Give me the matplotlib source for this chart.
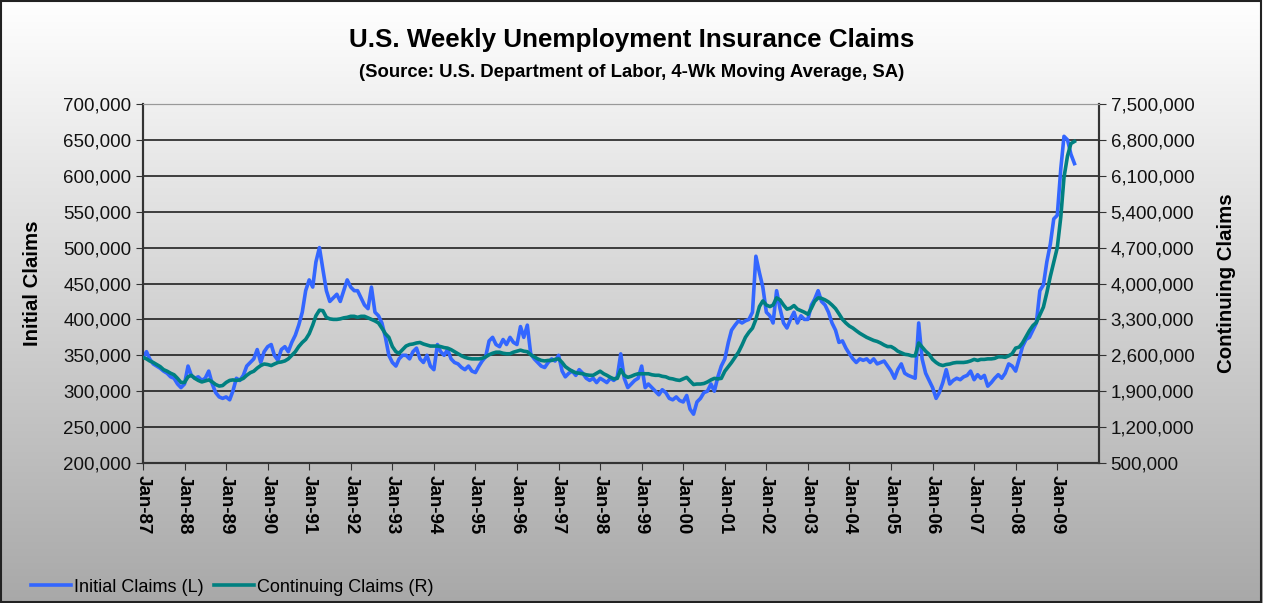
import numpy as np
import pandas as pd
import matplotlib
matplotlib.use('Agg')
import matplotlib.pyplot as plt
from matplotlib.ticker import FuncFormatter, MultipleLocator
import matplotlib.dates as mdates

plt.rcParams['font.family'] = ['Liberation Sans', 'DejaVu Sans']

# monthly readings, Jan 1987 - Jun 2009
start_month = '1987-01'

# initial claims, 4-wk avg (thousands)
initial_claims = [
    347, 355, 345, 338, 335, 332, 328, 325, 320, 318, 310, 305,  # 1987
    310, 335, 322, 318, 320, 315, 318, 328, 310, 298, 292, 290,  # 1988
    292, 288, 300, 318, 315, 322, 335, 340, 345, 358, 340, 355,  # 1989
    362, 365, 350, 343, 358, 362, 355, 368, 378, 392, 410, 440,  # 1990
    455, 445, 480, 500, 470, 440, 425, 430, 435, 425, 440, 455,  # 1991
    445, 440, 440, 430, 420, 415, 445, 410, 405, 395, 375, 350,  # 1992
    340, 335, 345, 350, 350, 345, 355, 360, 345, 340, 350, 335,  # 1993
    330, 365, 355, 350, 358, 345, 340, 338, 333, 330, 335, 328,  # 1994
    326, 335, 342, 348, 370, 375, 365, 362, 372, 365, 375, 368,  # 1995
    365, 390, 375, 392, 352, 345, 340, 335, 333, 340, 345, 342,  # 1996
    350, 328, 320, 325, 328, 322, 330, 325, 318, 315, 318, 312,  # 1997
    318, 315, 312, 318, 315, 320, 352, 318, 305, 310, 315, 318,  # 1998
    335, 305, 310, 305, 300, 295, 302, 298, 290, 288, 292, 287,  # 1999
    285, 294, 275, 268, 285, 290, 298, 300, 310, 300, 320, 335,  # 2000
    345, 368, 385, 392, 398, 395, 398, 400, 410, 488, 465, 445,  # 2001
    410, 405, 395, 440, 415, 395, 388, 400, 410, 395, 405, 400,  # 2002
    400, 420, 428, 440, 425, 420, 410, 395, 385, 368, 370, 360,  # 2003
    352, 345, 340, 345, 343, 345, 340, 345, 338, 340, 342, 335,  # 2004
    328, 318, 330, 338, 325, 322, 320, 318, 395, 345, 325, 315,  # 2005
    305, 290, 298, 312, 330, 310, 315, 318, 316, 320, 322, 328,  # 2006
    316, 323, 318, 322, 307, 312, 318, 323, 318, 325, 338, 335,  # 2007
    328, 345, 362, 372, 375, 385, 395, 440, 448, 480, 505, 540,  # 2008
    545, 610, 655, 650, 630, 617,                                # 2009
]

# continuing claims (millions)
continuing_claims = [
    2.56, 2.53, 2.49, 2.46, 2.42, 2.38, 2.32, 2.29, 2.25, 2.22, 2.15, 2.07,  # 1987
    2.07, 2.18, 2.21, 2.15, 2.11, 2.08, 2.10, 2.12, 2.08, 2.03, 2.00, 2.01,  # 1988
    2.07, 2.11, 2.12, 2.11, 2.12, 2.15, 2.21, 2.26, 2.29, 2.35, 2.40, 2.43,  # 1989
    2.42, 2.40, 2.43, 2.46, 2.47, 2.49, 2.53, 2.60, 2.67, 2.77, 2.85, 2.91,  # 1990
    3.02, 3.19, 3.37, 3.48, 3.47, 3.34, 3.31, 3.30, 3.30, 3.31, 3.33, 3.34,  # 1991
    3.36, 3.36, 3.34, 3.36, 3.36, 3.33, 3.30, 3.27, 3.23, 3.13, 3.02, 2.95,  # 1992
    2.77, 2.67, 2.64, 2.71, 2.78, 2.81, 2.82, 2.84, 2.85, 2.82, 2.80, 2.78,  # 1993
    2.78, 2.78, 2.77, 2.75, 2.74, 2.71, 2.67, 2.63, 2.59, 2.56, 2.54, 2.53,  # 1994
    2.53, 2.53, 2.54, 2.57, 2.61, 2.64, 2.66, 2.66, 2.64, 2.63, 2.63, 2.66,  # 1995
    2.68, 2.70, 2.68, 2.67, 2.61, 2.57, 2.53, 2.50, 2.49, 2.50, 2.50, 2.52,  # 1996
    2.53, 2.46, 2.38, 2.33, 2.29, 2.26, 2.25, 2.24, 2.22, 2.21, 2.21, 2.25,  # 1997
    2.29, 2.24, 2.21, 2.17, 2.14, 2.15, 2.32, 2.21, 2.17, 2.19, 2.22, 2.24,  # 1998
    2.24, 2.24, 2.24, 2.22, 2.21, 2.21, 2.19, 2.18, 2.15, 2.14, 2.12, 2.11,  # 1999
    2.14, 2.17, 2.10, 2.03, 2.04, 2.04, 2.05, 2.08, 2.12, 2.15, 2.14, 2.15,  # 2000
    2.29, 2.38, 2.46, 2.56, 2.66, 2.80, 2.95, 3.05, 3.13, 3.30, 3.55, 3.66,  # 2001
    3.58, 3.55, 3.58, 3.72, 3.68, 3.58, 3.50, 3.52, 3.57, 3.50, 3.47, 3.44,  # 2002
    3.40, 3.52, 3.65, 3.72, 3.71, 3.68, 3.64, 3.58, 3.51, 3.41, 3.30, 3.23,  # 2003
    3.17, 3.13, 3.08, 3.03, 2.99, 2.95, 2.92, 2.89, 2.87, 2.84, 2.80, 2.77,  # 2004
    2.77, 2.73, 2.68, 2.65, 2.62, 2.61, 2.59, 2.59, 2.84, 2.76, 2.68, 2.62,  # 2005
    2.52, 2.46, 2.42, 2.40, 2.42, 2.43, 2.45, 2.46, 2.46, 2.46, 2.47, 2.49,  # 2006
    2.52, 2.50, 2.52, 2.52, 2.53, 2.53, 2.54, 2.57, 2.57, 2.56, 2.59, 2.63,  # 2007
    2.74, 2.76, 2.84, 2.96, 3.08, 3.18, 3.24, 3.39, 3.54, 3.82, 4.14, 4.42,  # 2008
    4.70, 5.30, 6.07, 6.49, 6.73, 6.77,                                      # 2009
]

dates = pd.date_range(start_month, periods=len(initial_claims), freq='MS')
df = pd.DataFrame({'initial': np.array(initial_claims) * 1000,
                   'continuing': np.array(continuing_claims) * 1e6}, index=dates)

fig = plt.figure(figsize=(12.63, 6.03), dpi=100)

# gradient background
bg = fig.add_axes([0, 0, 1, 1], zorder=-10)
grad = np.linspace(1.0, 0.66, 256).reshape(-1, 1)
bg.imshow(np.dstack([grad, grad, grad]), aspect='auto', extent=[0, 1, 0, 1])
bg.set_axis_off()
fig.patches.append(plt.Rectangle((0.0008, 0.0015), 0.998, 0.997, transform=fig.transFigure,
                                 fill=False, edgecolor='#222222', linewidth=1.5))

ax = fig.add_axes([0.1132, 0.2322, 0.7568, 0.5953])
ax.patch.set_alpha(0)
ax2 = ax.twinx()

blue = '#3366ff'
teal = '#008080'

l1, = ax.plot(df.index, df['initial'], color=blue, lw=2.6, label='Initial Claims (L)', zorder=3)
l2, = ax2.plot(df.index, df['continuing'], color=teal, lw=2.6, label='Continuing Claims (R)', zorder=3)

ax.set_ylim(200000, 700000)
ax2.set_ylim(500000, 7500000)
ax.yaxis.set_major_locator(MultipleLocator(50000))
ax2.set_yticks(np.arange(500000, 7500001, 700000))
fmt = FuncFormatter(lambda v, p: f'{v:,.0f}')
ax.yaxis.set_major_formatter(fmt)
ax2.yaxis.set_major_formatter(fmt)

ax.set_xlim(pd.Timestamp('1987-01-01'), pd.Timestamp('2010-01-01'))
years = pd.date_range('1987-01-01', '2009-01-01', freq='YS')
ax.set_xticks(years)
ax.xaxis.set_major_formatter(mdates.DateFormatter('Jan-%y'))
for lbl in ax.get_xticklabels():
    lbl.set_rotation(270)
    lbl.set_fontweight('bold')
    lbl.set_fontsize(13.5)

ax.grid(axis='y', color='#111111', lw=1.1)
ax.set_axisbelow(True)
ax.tick_params(axis='y', labelsize=13.5, length=5, color='#333333', labelcolor='#111111')
ax2.tick_params(axis='y', labelsize=13.5, length=5, color='#333333', labelcolor='#111111')
ax.tick_params(axis='x', length=5, color='#333333', pad=4)

for a in (ax, ax2):
    a.spines['top'].set_color('#999999')
    a.spines['left'].set_color('#333333')
    a.spines['right'].set_color('#333333')
    a.spines['bottom'].set_color('#333333')
    a.spines['left'].set_linewidth(1.5)
    a.spines['right'].set_linewidth(1.5)
    a.spines['bottom'].set_linewidth(1.5)

ax.set_ylabel('Initial Claims', fontsize=14.7, fontweight='bold', labelpad=15)
ax2.set_ylabel('Continuing Claims', fontsize=14.7, fontweight='bold', labelpad=16)

fig.text(0.5, 0.933, 'U.S. Weekly Unemployment Insurance Claims', ha='center', va='center',
         fontsize=18.7, fontweight='bold')
fig.text(0.5, 0.88, '(Source: U.S. Department of Labor, 4-Wk Moving Average, SA)', ha='center',
         va='center', fontsize=13.3, fontweight='bold')

fig.legend(handles=[l1, l2], loc='lower left', bbox_to_anchor=(0.012, -0.015), ncol=2,
           frameon=False, fontsize=13, handlelength=2.2, handletextpad=0.15, columnspacing=0.6)

fig.savefig('out.png', dpi=100)
